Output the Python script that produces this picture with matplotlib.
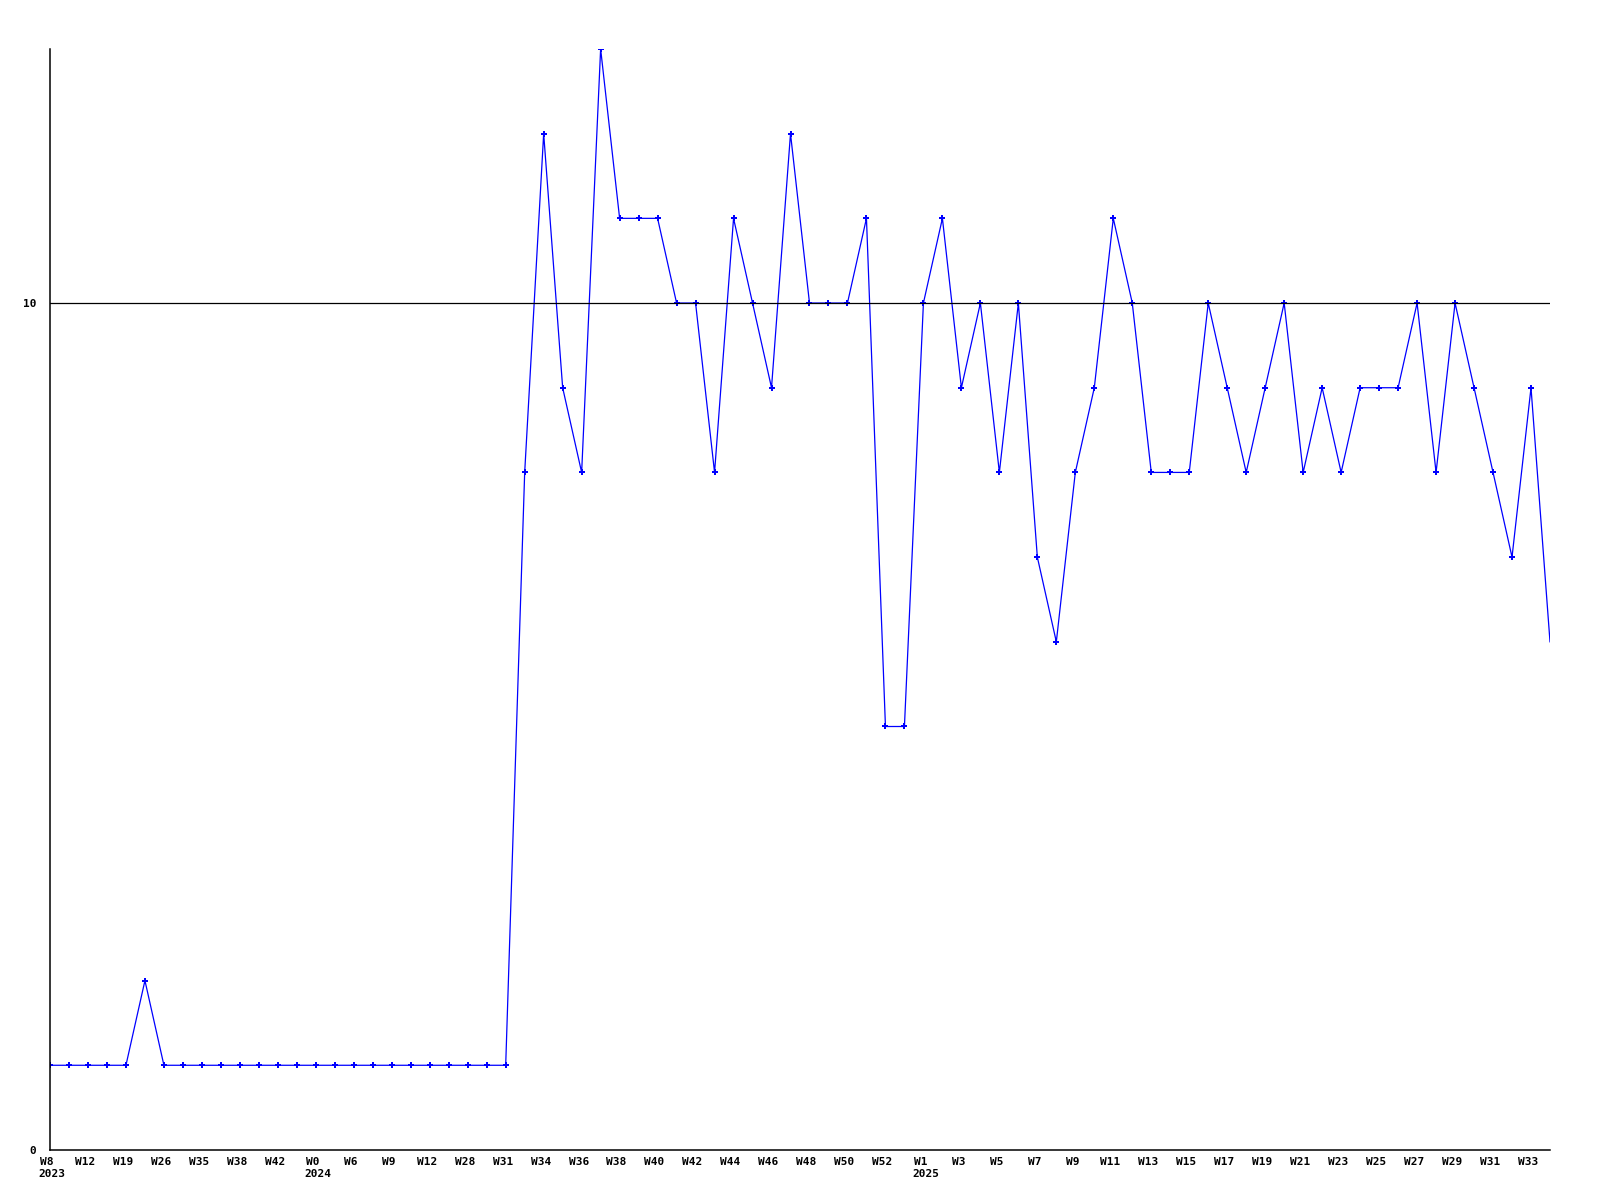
import matplotlib
matplotlib.use('Agg')
import matplotlib.pyplot as plt
import matplotlib.transforms as mtransforms

# weekly values, one per week
valores = [1, 1, 1, 1, 1, 2, 1, 1, 1, 1, 1, 1, 1, 1, 1, 1, 1, 1, 1, 1,
           1, 1, 1, 1, 1, 8, 12, 9, 8, 13, 11, 11, 11, 10, 10, 8, 11, 10, 9, 12,
           10, 10, 10, 11, 5, 5, 10, 11, 9, 10, 8, 10, 7, 6, 8, 9, 11, 10, 8, 8,
           8, 10, 9, 8, 9, 10, 8, 9, 8, 9, 9, 9, 10, 8, 10, 9, 8, 7, 9, 6]

# one label every other point
etiquetas = ['W8', 'W12', 'W19', 'W26', 'W35', 'W38', 'W42',
             'W0', 'W6', 'W9', 'W12', 'W28', 'W31',
             'W34', 'W36', 'W38', 'W40', 'W42', 'W44', 'W46', 'W48', 'W50', 'W52',
             'W1', 'W3', 'W5', 'W7', 'W9', 'W11', 'W13', 'W15', 'W17', 'W19',
             'W21', 'W23', 'W25', 'W27', 'W29', 'W31', 'W33']
anios = {0: '2023', 14: '2024', 46: '2025'}

fig = plt.figure(figsize=(16, 12), dpi=100)
ax = fig.add_axes([0.03125, 0.0417, 0.9375, 0.9175])

x = list(range(len(valores)))
ax.plot(x, valores, color='#0000ff', linewidth=0.9)
ax.plot(x[:-1], valores[:-1], linestyle='none', marker='P', markersize=4,
        markeredgewidth=0, color='#0000ff')

ax.set_xlim(0, len(valores) - 1)
ax.set_ylim(0, 13)
ax.axhline(10, color='black', linewidth=0.9)

for lado in ['top', 'right']:
    ax.spines[lado].set_visible(False)
for lado in ['left', 'bottom']:
    ax.spines[lado].set_linewidth(1.1)

fuente = dict(family='DejaVu Sans Mono', weight='bold', size=8)

ax.set_yticks([0, 10])
ax.set_yticklabels(['0', '10'], **fuente)
ax.tick_params(axis='y', length=0, pad=10)

pos = list(range(0, len(valores), 2))
ax.set_xticks(pos)
ax.set_xticklabels(etiquetas, **fuente)
ax.tick_params(axis='x', length=0, pad=5)
desplazar = mtransforms.ScaledTranslation(-3 / 100, 0, fig.dpi_scale_trans)
for etiqueta in ax.get_xticklabels():
    etiqueta.set_transform(etiqueta.get_transform() + desplazar)

trans = mtransforms.blended_transform_factory(ax.transData, ax.transAxes)
for i, anio in anios.items():
    ax.text(i - 0.6, -0.022, anio, transform=trans, ha='left', va='center',
            **fuente)

fig.savefig('out.png', dpi=100)
